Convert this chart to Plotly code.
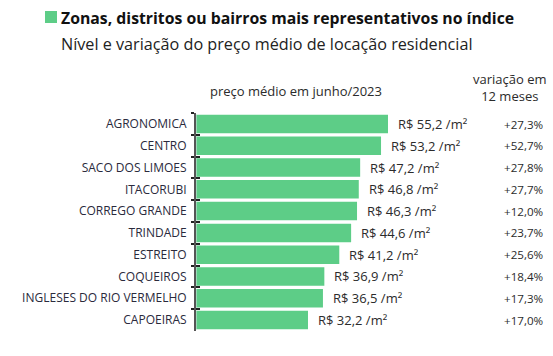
import plotly.graph_objects as go

categories = ["AGRONOMICA", "CENTRO", "SACO DOS LIMOES", "ITACORUBI", "CORREGO GRANDE",
              "TRINDADE", "ESTREITO", "COQUEIROS", "INGLESES DO RIO VERMELHO", "CAPOEIRAS"]
prices = [55.2, 53.2, 47.2, 46.8, 46.3, 44.6, 41.2, 36.9, 36.5, 32.2]
variation = [27.3, 52.7, 27.8, 27.7, 12.0, 23.7, 25.6, 18.4, 17.3, 17.0]

title = "Zonas, distritos ou bairros mais representativos no índice"
subtitle = "Nível e variação do preço médio de locação residencial"
header_price = "preço médio em junho/2023"
header_var = "variação em<br>12 meses"

def fmt(v):
    return f"{v:.1f}".replace(".", ",")

W, H = 553, 356
L, T = 196, 113
B = H - 331
R = 0
pw = W - L - R
ph = H - T - B
px_per_unit = 3.478
xmax = pw / px_per_unit
var_x = (502 - L) / px_per_unit

def py(y):
    return (H - B - y) / ph

def pxp(x):
    return (x - L) / pw

font = "Open Sans"
txt = "#2b2b2b"

fig = go.Figure()
fig.add_trace(go.Bar(
    y=categories, x=prices, orientation="h",
    marker=dict(color="#5dcd87", line=dict(width=0)),
    hoverinfo="skip",
))
fig.add_trace(go.Bar(y=categories, x=[0]*len(categories), orientation="h",
                     yaxis="y2", showlegend=False, hoverinfo="skip",
                     marker=dict(color="rgba(0,0,0,0)")))

annotations = []
for c, p, v in zip(categories, prices, variation):
    annotations.append(dict(x=p, y=c, xref="x", yref="y", text=f"R$ {fmt(p)} /m²",
                            showarrow=False, xanchor="left", xshift=8,
                            font=dict(family=font, size=13, color=txt)))
    annotations.append(dict(x=var_x, y=c, xref="x", yref="y", text=f"+{fmt(v)}%",
                            showarrow=False, xanchor="left",
                            font=dict(family=font, size=11.6, color=txt)))

annotations += [
    dict(x=pxp(59), y=py(18), xref="paper", yref="paper", text=f"<b>{title}</b>",
         showarrow=False, xanchor="left", yanchor="middle",
         font=dict(family=font, size=15.8, color="#111")),
    dict(x=pxp(59), y=py(43.5), xref="paper", yref="paper", text=subtitle,
         showarrow=False, xanchor="left", yanchor="middle",
         font=dict(family=font, size=16.2, color="#222")),
    dict(x=pxp(296), y=py(91), xref="paper", yref="paper", text=header_price,
         showarrow=False, xanchor="center", yanchor="middle",
         font=dict(family=font, size=13, color=txt)),
    dict(x=pxp(509.5), y=py(88), xref="paper", yref="paper", text=header_var,
         showarrow=False, xanchor="center", yanchor="middle",
         font=dict(family=font, size=13, color=txt)),
]

fig.update_layout(
    width=W, height=H,
    margin=dict(l=L, r=R, t=T, b=B),
    paper_bgcolor="white", plot_bgcolor="white",
    showlegend=False, bargap=0.15, barmode="overlay",
    xaxis=dict(range=[0, xmax], visible=False, fixedrange=True),
    yaxis=dict(autorange="reversed", showline=True, linecolor="#555", linewidth=2,
               ticks="outside", ticklen=3, tickcolor="#222", tickwidth=1.5,
               tickson="boundaries", showgrid=False, zeroline=False,
               ticklabelstandoff=5, fixedrange=True,
               tickfont=dict(family=font, size=12, color="#2a2a3c")),
    yaxis2=dict(overlaying="y", matches="y", side="left", showline=False,
                ticks="inside", ticklen=4, tickcolor="#222", tickwidth=1.5,
                tickson="boundaries", showticklabels=False, showgrid=False),
    annotations=annotations,
    shapes=[dict(type="rect", xref="paper", yref="paper",
                 x0=pxp(45), x1=pxp(57), y0=py(23), y1=py(11),
                 fillcolor="#5dcd87", line=dict(width=0))],
)

fig.write_html(
    "out.html",
    config={"displayModeBar": False},
    post_script="document.body.style.margin='0';document.body.style.overflow='hidden';",
)
